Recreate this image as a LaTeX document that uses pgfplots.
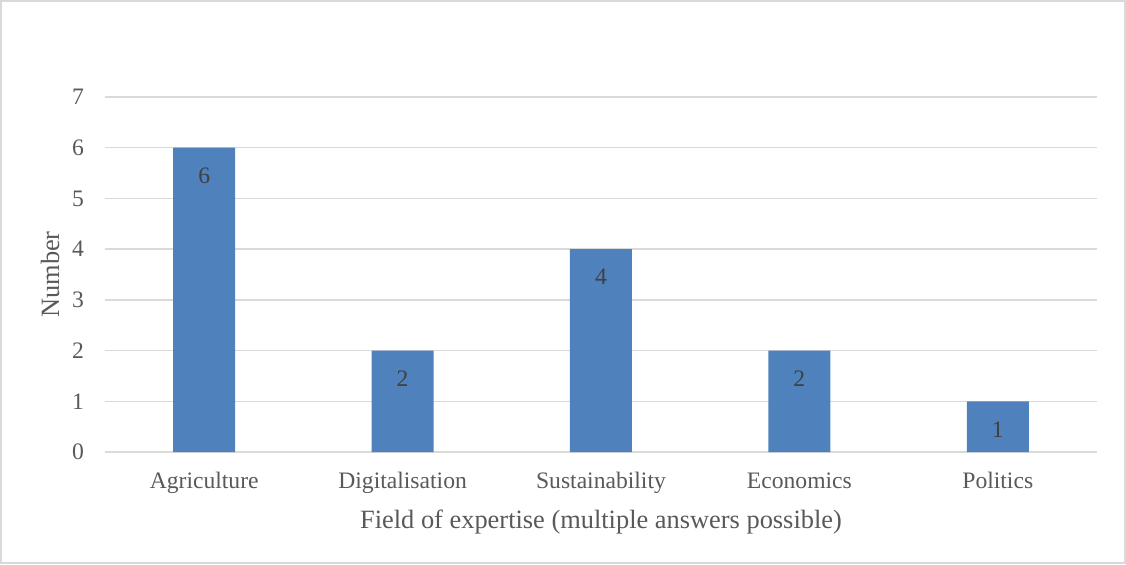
\documentclass[border=0pt]{standalone}
\usepackage{pgfplots}
\pgfplotsset{compat=1.18}
\usepackage{fontspec}
\setmainfont{Liberation Serif}
\definecolor{barblue}{HTML}{4F81BD}
\definecolor{gridgray}{HTML}{D9D9D9}
\definecolor{txtgray}{HTML}{595959}
\definecolor{lblgray}{HTML}{404040}
\begin{document}
\begin{tikzpicture}
\useasboundingbox (0,0) rectangle (563pt,282pt);
\draw[gridgray, line width=1pt] (0.5pt,0.5pt) rectangle (562.5pt,281.5pt);
\begin{axis}[
  at={(52.5pt,56pt)}, anchor=south west,
  scale only axis, width=496pt, height=177.5pt,
  xmin=-0.5, xmax=4.5, ymin=0, ymax=7,
  ytick={0,...,7},
  xtick=data,
  xticklabels={Agriculture,Digitalisation,Sustainability,Economics,Politics},
  axis line style={draw=none},
  major tick length=0pt,
  ymajorgrids, grid style={gridgray, line width=0.75pt},
  tick label style={font=\fontsize{11.8}{13}\selectfont, text=txtgray},
  yticklabel style={xshift=-7pt},
  xticklabel style={anchor=base, yshift=-18pt},
  /pgf/number format/assume math mode=true,
  xlabel={Field of expertise (multiple answers possible)},
  ylabel={Number},
  label style={font=\fontsize{13.2}{15}\selectfont, text=txtgray},
  xlabel style={at={(axis description cs:0.5,0)}, anchor=base, yshift=-38pt},
  ylabel style={yshift=-0.5pt},
  ybar, bar width=31pt,
  nodes near coords,
  nodes near coords style={anchor=center, yshift=-14pt, font=\fontsize{11.8}{13}\selectfont, text=lblgray},
]
\addplot[fill=barblue, draw=none] coordinates {(0,6) (1,2) (2,4) (3,2) (4,1)};
\end{axis}
\end{tikzpicture}
\end{document}
